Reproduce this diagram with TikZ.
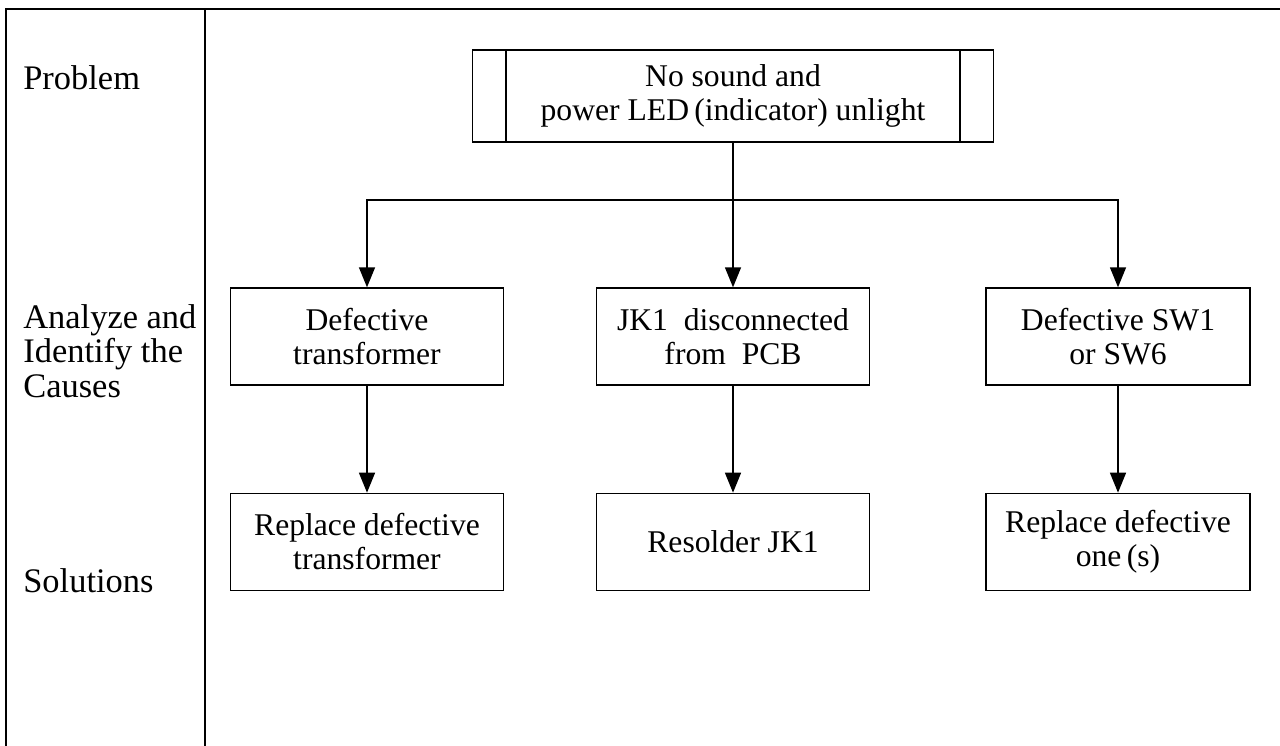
\documentclass[tikz,border=0pt]{standalone}
\usepackage{fontspec}
\setmainfont{Liberation Serif}
\usetikzlibrary{positioning, arrows.meta}
\tikzset{
  stage/.style={draw, line width=0.8pt, minimum width=5.46cm, minimum height=1.94cm,
                align=center, inner sep=2pt, font=\fontsize{18}{19.3}\selectfont},
  rowlabel/.style={inner sep=0pt, align=left, font=\fontsize{19.6}{19.6}\selectfont},
  flow/.style={-{Triangle[length=0.4cm, width=0.32cm]}, line width=0.8pt},
  frame/.style={line width=1.1pt},
}

\begin{document}
\begin{tikzpicture}[x=0.02cm, y=-0.02cm, node distance=2.14cm]
  \useasboundingbox (0,0) rectangle (1280,746);

  % table frame
  \draw[frame] (6,746) -- (6,9) -- (1280,9);
  \draw[frame] (205,9) -- (205,746);

  % row labels
  \node[rowlabel, anchor=base west] (lprob) at (23,90) {Problem};
  \node[rowlabel, anchor=north west] (lcause) at (23,304) {Analyze and\\Identify the\\Causes};
  \node[rowlabel, anchor=base west] (lsol) at (23,592) {Solutions};

  % problem
  \node[stage, minimum width=10.42cm, minimum height=1.84cm] (prob) at (733,96)
       {No sound and\\power LED\,(indicator) unlight};
  \draw[line width=0.8pt] ([xshift=0.68cm]prob.north west) -- ([xshift=0.68cm]prob.south west);
  \draw[line width=0.8pt] ([xshift=-0.68cm]prob.north east) -- ([xshift=-0.68cm]prob.south east);

  % causes
  \node[stage] (trans) at (367,336.5) {Defective\\transformer};
  \node[stage] (jack) at (733,336.5) {JK1\ \ disconnected\\from\ \ PCB};
  \node[stage, minimum width=5.28cm] (swit) at (1118,336.5) {Defective SW1\\or SW6};

  % solutions
  \node[stage, below=of trans] (fixtrans) {Replace defective\\transformer};
  \node[stage, below=of jack] (fixjack) {Resolder JK1};
  \node[stage, minimum width=5.28cm, below=of swit] (fixswit) {Replace defective\\one\,(s)};

  % connectors
  \coordinate (fork) at (prob.south |- 0,200);
  \draw[line width=0.8pt] (prob.south) -- (fork);
  \draw[flow] (fork) -| (trans.north);
  \draw[flow] (fork) -- (jack.north);
  \draw[flow] (fork) -| (swit.north);

  \draw[flow] (trans) -- (fixtrans);
  \draw[flow] (jack) -- (fixjack);
  \draw[flow] (swit) -- (fixswit);
\end{tikzpicture}
\end{document}
